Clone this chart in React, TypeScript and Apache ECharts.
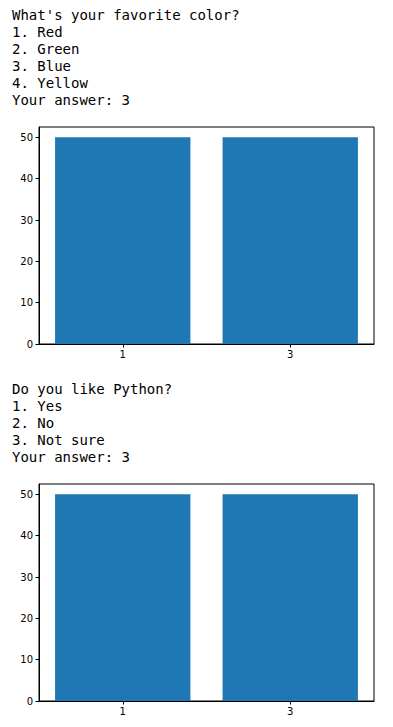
import React, { useEffect, useRef } from "react";
import * as echarts from "echarts";

const q1Lines = ["What's your favorite color?", "1. Red", "2. Green", "3. Blue", "4. Yellow", "Your answer: 3"];
const q1Categories = ["1", "3"];
const q1Values = [50, 50];

const q2Lines = ["Do you like Python?", "1. Yes", "2. No", "3. Not sure", "Your answer: 3"];
const q2Categories = ["1", "3"];
const q2Values = [50, 50];

const yTicks = [0, 10, 20, 30, 40, 50];
const yMax = 52.5;

export default function App() {
  const ref = useRef<HTMLDivElement>(null);
  useEffect(() => {
    if (!ref.current) return;
    const chart = echarts.init(ref.current, undefined, { renderer: "svg" });
    const textEls: any[] = [];
    q1Lines.forEach((t, i) => {
      textEls.push({
        type: "text",
        x: 12,
        y: 14.5 + i * 17,
        style: { text: t, font: "14px 'DejaVu Sans Mono'", fill: "#000", verticalAlign: "middle", align: "left" },
      });
    });
    q2Lines.forEach((t, i) => {
      textEls.push({
        type: "text",
        x: 12,
        y: 388.5 + i * 17,
        style: { text: t, font: "14px 'DejaVu Sans Mono'", fill: "#000", verticalAlign: "middle", align: "left" },
      });
    });
    const grids = [
      { left: 39, top: 127, width: 335, height: 217 },
      { left: 39, top: 484, width: 335, height: 217 },
    ];
    const makeX = (cats: string[], idx: number) => ({
      type: "category",
      gridIndex: idx,
      data: cats,
      axisLine: { show: true, lineStyle: { color: "#000", width: 1 } },
      axisTick: { show: true, alignWithLabel: true, length: 3.5, lineStyle: { color: "#000" } },
      axisLabel: { color: "#000", fontFamily: "DejaVu Sans", fontSize: 10, margin: 5 },
      splitLine: { show: false },
    });
    const makeY = (idx: number) => ({
      type: "value",
      gridIndex: idx,
      min: 0,
      max: yMax,
      axisLine: { show: true, lineStyle: { color: "#000", width: 1 } },
      axisTick: { show: true, length: 3.5, lineStyle: { color: "#000" }, customValues: yTicks },
      axisLabel: { color: "#000", fontFamily: "DejaVu Sans", fontSize: 10, margin: 6, customValues: yTicks },
      splitLine: { show: false },
    });
    chart.setOption({
      animation: false,
      backgroundColor: "#fff",
      graphic: textEls,
      grid: grids.map((g) => ({ ...g, show: true, borderColor: "#000", borderWidth: 1, backgroundColor: "transparent" })),
      xAxis: [makeX(q1Categories, 0), makeX(q2Categories, 1)],
      yAxis: [makeY(0), makeY(1)],
      series: [
        { type: "bar", xAxisIndex: 0, yAxisIndex: 0, data: q1Values, barWidth: "80.8%", itemStyle: { color: "#1f77b4" } },
        { type: "bar", xAxisIndex: 1, yAxisIndex: 1, data: q2Values, barWidth: "80.8%", itemStyle: { color: "#1f77b4" } },
      ],
    });
    return () => chart.dispose();
  }, []);
  return <div ref={ref} style={{ position: "fixed", left: 0, top: 0, width: 393, height: 727 }} />;
}
